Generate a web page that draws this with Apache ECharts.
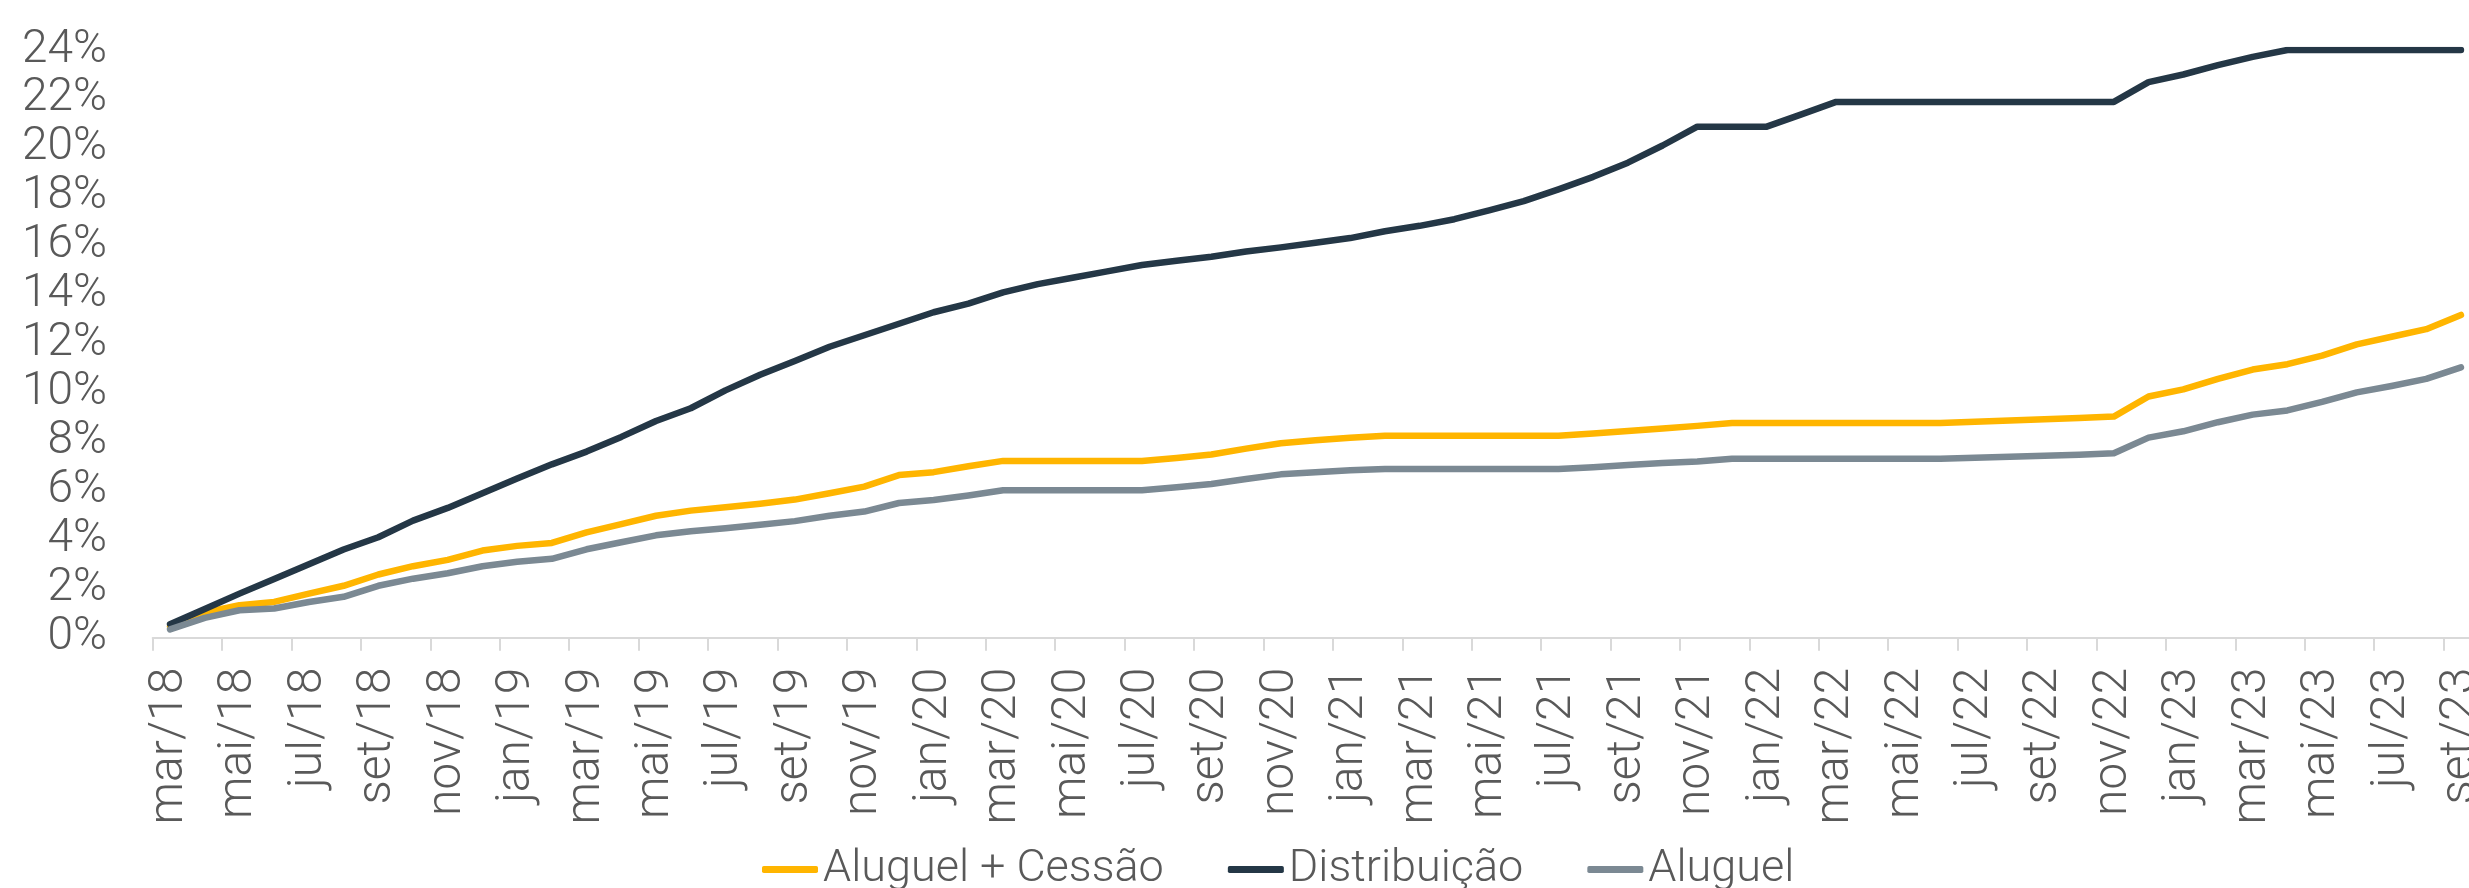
<!DOCTYPE html>
<html>
<head>
<meta charset="utf-8">
<script src="https://cdn.jsdelivr.net/npm/echarts@6/dist/echarts.min.js"></script>
<style>
    html, body { margin: 0; padding: 0; background: #fff; overflow: hidden; }
    #chart-container { width: 2500px; height: 888px; }
</style>
</head>
<body>
<div id="chart-container"></div>
<script>
var NAME_CESSAO = 'Aluguel + Cessão';
var NAME_DISTRIB = 'Distribuição';
var NAME_ALUGUEL = 'Aluguel';

var months = [
    'mar/18','abr/18','mai/18','jun/18','jul/18','ago/18','set/18','out/18','nov/18','dez/18',
    'jan/19','fev/19','mar/19','abr/19','mai/19','jun/19','jul/19','ago/19','set/19','out/19','nov/19','dez/19',
    'jan/20','fev/20','mar/20','abr/20','mai/20','jun/20','jul/20','ago/20','set/20','out/20','nov/20','dez/20',
    'jan/21','fev/21','mar/21','abr/21','mai/21','jun/21','jul/21','ago/21','set/21','out/21','nov/21','dez/21',
    'jan/22','fev/22','mar/22','abr/22','mai/22','jun/22','jul/22','ago/22','set/22','out/22','nov/22','dez/22',
    'jan/23','fev/23','mar/23','abr/23','mai/23','jun/23','jul/23','ago/23','set/23'
];

// valores em %
var data_cessao = [
    0.45, 1.03, 1.33, 1.46, 1.80, 2.12, 2.58, 2.92, 3.18, 3.56,
    3.75, 3.87, 4.30, 4.64, 4.98, 5.19, 5.33, 5.47, 5.64, 5.90, 6.17, 6.64,
    6.76, 7.00, 7.22, 7.22, 7.22, 7.22, 7.22, 7.34, 7.48, 7.72, 7.94, 8.06,
    8.17, 8.25, 8.25, 8.25, 8.25, 8.25, 8.25, 8.34, 8.44, 8.54, 8.65, 8.77,
    8.77, 8.77, 8.77, 8.77, 8.77, 8.77, 8.82, 8.87, 8.92, 8.97, 9.03, 9.85,
    10.14, 10.57, 10.95, 11.17, 11.52, 11.98, 12.29, 12.60, 13.18
];
var data_distrib = [
    0.55, 1.17, 1.80, 2.40, 3.00, 3.60, 4.10, 4.78, 5.30, 5.90,
    6.50, 7.08, 7.60, 8.20, 8.85, 9.37, 10.10, 10.74, 11.30, 11.88, 12.35, 12.82,
    13.29, 13.64, 14.10, 14.44, 14.70, 14.96, 15.22, 15.39, 15.56, 15.77, 15.94, 16.13,
    16.32, 16.60, 16.82, 17.09, 17.45, 17.83, 18.31, 18.82, 19.40, 20.10, 20.87, 20.87,
    20.87, 21.37, 21.88, 21.88, 21.88, 21.88, 21.88, 21.88, 21.88, 21.88, 21.88, 22.69,
    23.00, 23.38, 23.72, 24.00, 24.00, 24.00, 24.00, 24.00, 24.00
];
var data_aluguel = [
    0.34, 0.81, 1.12, 1.19, 1.46, 1.67, 2.12, 2.41, 2.63, 2.92,
    3.10, 3.22, 3.61, 3.90, 4.18, 4.35, 4.47, 4.61, 4.76, 4.98, 5.15, 5.50,
    5.62, 5.81, 6.02, 6.02, 6.02, 6.02, 6.02, 6.14, 6.28, 6.48, 6.67, 6.76,
    6.84, 6.89, 6.89, 6.89, 6.89, 6.89, 6.89, 6.96, 7.05, 7.13, 7.20, 7.31,
    7.31, 7.31, 7.31, 7.31, 7.31, 7.31, 7.35, 7.39, 7.43, 7.47, 7.53, 8.17,
    8.43, 8.80, 9.11, 9.28, 9.63, 10.02, 10.28, 10.57, 11.04
];

var colors = ['#FFB500', '#243746', '#7B8993'];
var FONT = 'Roboto, "Liberation Sans", sans-serif';
var TEXT_COLOR = '#595959';

var myChart = echarts.init(document.getElementById('chart-container'));

function lineSeries(name, data) {
    return {
        name: name,
        type: 'line',
        data: data,
        symbol: 'none',
        smooth: false,
        lineStyle: {width: 6.5, cap: 'round', join: 'round'},
        animation: false
    };
}

var option = {
    color: colors,
    animation: false,
    grid: {
        left: 152.7,
        right: 21.7,
        top: 50,
        bottom: 250.3
    },
    legend: {
        left: 757,
        top: 842,
        itemGap: 64,
        itemWidth: 56,
        itemHeight: 7,
        icon: 'roundRect',
        textStyle: {
            fontFamily: FONT,
            fontWeight: 300,
            fontSize: 45,
            color: TEXT_COLOR
        },
        data: [NAME_CESSAO, NAME_DISTRIB, NAME_ALUGUEL]
    },
    xAxis: {
        type: 'category',
        boundaryGap: true,
        data: months,
        axisLine: {lineStyle: {color: '#D9D9D9', width: 2}},
        axisTick: {
            show: true,
            interval: 1,
            length: 13,
            lineStyle: {color: '#D9D9D9', width: 2}
        },
        axisLabel: {
            interval: 1,
            rotate: 90,
            margin: 30,
            fontFamily: FONT,
            fontWeight: 300,
            fontSize: 48,
            color: TEXT_COLOR
        },
        splitLine: {show: false}
    },
    yAxis: {
        type: 'value',
        min: 0,
        max: 24,
        interval: 2,
        axisLine: {show: false},
        axisTick: {show: false},
        splitLine: {show: false},
        axisLabel: {
            formatter: '{value}%',
            margin: 45.7,
            padding: [0, 0, 12, 0],
            fontFamily: FONT,
            fontWeight: 300,
            fontSize: 46,
            color: TEXT_COLOR
        }
    },
    series: [
        lineSeries(NAME_CESSAO, data_cessao),
        lineSeries(NAME_DISTRIB, data_distrib),
        lineSeries(NAME_ALUGUEL, data_aluguel)
    ]
};
myChart.setOption(option);
</script>
</body>
</html>
